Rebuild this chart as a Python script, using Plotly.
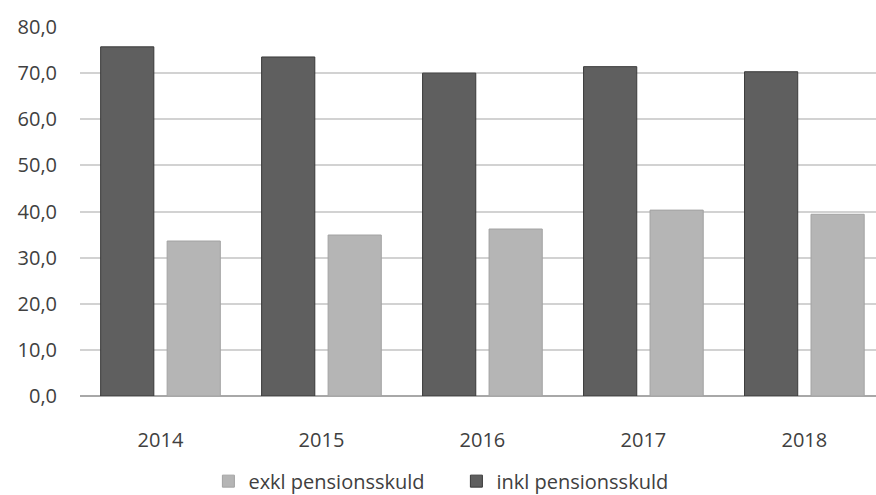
import plotly.graph_objects as go

years = ["2014", "2015", "2016", "2017", "2018"]
inkl_pensionsskuld = [75.7, 73.5, 70.0, 71.4, 70.3]
exkl_pensionsskuld = [33.6, 34.9, 36.2, 40.3, 39.4]
y_ticks = [0, 10, 20, 30, 40, 50, 60, 70, 80]

fig = go.Figure()
fig.add_trace(go.Bar(
    x=years, y=inkl_pensionsskuld, name="inkl pensionsskuld",
    marker=dict(color="#5f5f5f", line=dict(color="#3a3a3a", width=1)),
))
fig.add_trace(go.Bar(
    x=years, y=exkl_pensionsskuld, name="exkl pensionsskuld",
    marker=dict(color="#b5b5b5", line=dict(color="#a3a3a3", width=1)),
))

font_family = "Open Sans, Lato, DejaVu Sans, sans-serif"

fig.update_layout(
    width=876, height=495,
    margin=dict(l=80, r=0, t=27, b=99, autoexpand=False),
    paper_bgcolor="white", plot_bgcolor="white",
    barmode="group", bargap=0.174, bargroupgap=0.2,
    separators=", ",
    font=dict(family=font_family, size=19, color="#404040"),
    showlegend=True,
    legend=dict(
        orientation="h", traceorder="reversed",
        xref="container", x=0.521, xanchor="center",
        yref="container", y=0.028, yanchor="middle",
        font=dict(size=20, color="#404040"),
        itemwidth=30, entrywidth=203,
    ),
    xaxis=dict(
        range=[-0.5, 4.445], showgrid=False, showline=False,
        ticks="", ticklabelstandoff=30, automargin=False,
        tickfont=dict(size=20, color="#404040"),
    ),
    yaxis=dict(
        range=[0, 80], tickvals=y_ticks, tickformat=".1f",
        showgrid=True, gridcolor="#d2d2d2", gridwidth=1.5,
        zeroline=True, zerolinecolor="#a8a8a8", zerolinewidth=1.5,
        showline=False, ticks="", ticklabelstandoff=22, automargin=False,
        tickfont=dict(size=20, color="#404040"),
    ),
)

fig.write_html("out.html")
